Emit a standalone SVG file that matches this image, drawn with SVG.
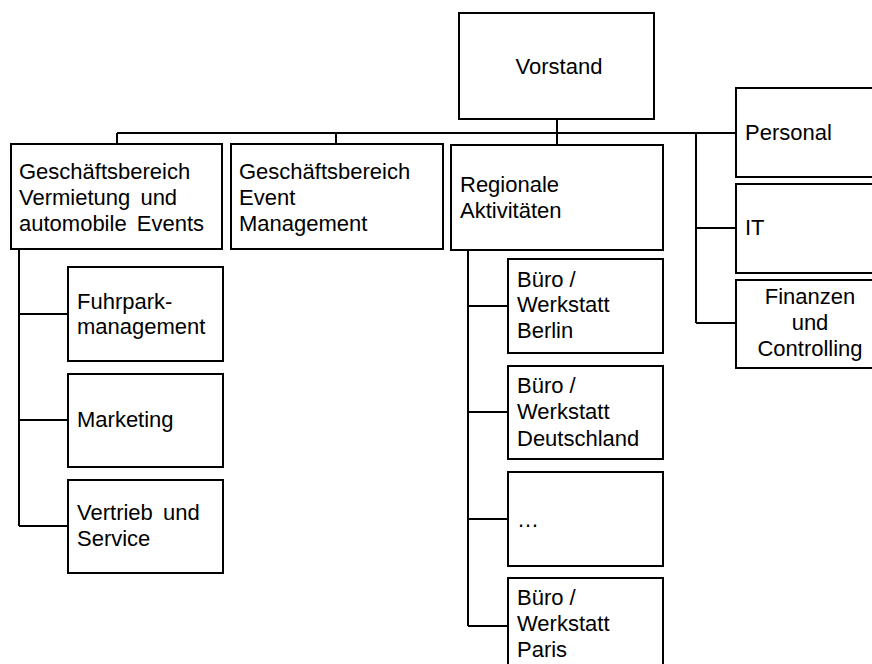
<svg xmlns="http://www.w3.org/2000/svg" width="872" height="664" viewBox="0 0 872 664">
<style>
.box{fill:#fff;stroke:#000;stroke-width:2}
.c{fill:none;stroke:#000;stroke-width:2}
text{font-family:"Liberation Sans",Arial,sans-serif;font-size:22px;fill:#000}
.m{text-anchor:middle}
</style>
<rect width="872" height="664" fill="#fff"/>
<g id="connectors">
<path class="c" d="M557 119V145M117 133H736M117 133V144M336 133V144"/>
<path class="c" d="M696 133V323M696 228H736M696 323H736"/>
<path class="c" d="M19 249V526M19 314H68M19 420H68M19 526H68"/>
<path class="c" d="M468 250V626M468 306H508M468 412H508M468 519H508M468 626H508"/>
</g>
<g id="vorstand"><rect class="box" x="459" y="13" width="195" height="106"/><text class="m" x="559" y="74">Vorstand</text></g>
<g id="gb-vermietung"><rect class="box" x="11" y="144" width="211" height="105"/><text x="19" y="179">Geschäftsbereich</text><text x="19" y="205" word-spacing="4">Vermietung und</text><text x="19" y="231" word-spacing="4">automobile Events</text></g>
<g id="gb-event"><rect class="box" x="231" y="144" width="212" height="105"/><text x="239" y="179">Geschäftsbereich</text><text x="239" y="205">Event</text><text x="239" y="231">Management</text></g>
<g id="regional"><rect class="box" x="451" y="145" width="212" height="105"/><text x="460" y="192">Regionale</text><text x="460" y="218">Aktivitäten</text></g>
<g id="personal"><rect class="box" x="736" y="88" width="150" height="89"/><text x="745" y="140">Personal</text></g>
<g id="it"><rect class="box" x="736" y="184" width="150" height="89"/><text x="745" y="235">IT</text></g>
<g id="finanzen"><rect class="box" x="736" y="280" width="150" height="88"/><text class="m" x="810" y="304">Finanzen</text><text class="m" x="810" y="330">und</text><text class="m" x="810" y="356">Controlling</text></g>
<g id="fuhrpark"><rect class="box" x="68" y="267" width="155" height="94"/><text x="77" y="309">Fuhrpark-</text><text x="77" y="334">management</text></g>
<g id="marketing"><rect class="box" x="68" y="374" width="155" height="93"/><text x="77" y="427">Marketing</text></g>
<g id="vertrieb"><rect class="box" x="68" y="480" width="155" height="93"/><text x="77" y="520" word-spacing="4">Vertrieb und</text><text x="77" y="546">Service</text></g>
<g id="berlin"><rect class="box" x="508" y="259" width="155" height="94"/><text x="517" y="287">Büro /</text><text x="517" y="312">Werkstatt</text><text x="517" y="338">Berlin</text></g>
<g id="deutschland"><rect class="box" x="508" y="366" width="155" height="93"/><text x="517" y="393">Büro /</text><text x="517" y="419">Werkstatt</text><text x="517" y="446">Deutschland</text></g>
<g id="dots"><rect class="box" x="508" y="472" width="155" height="94"/><text x="517" y="527">…</text></g>
<g id="paris"><rect class="box" x="508" y="578" width="155" height="96"/><text x="517" y="605">Büro /</text><text x="517" y="631">Werkstatt</text><text x="517" y="657">Paris</text></g>
</svg>
